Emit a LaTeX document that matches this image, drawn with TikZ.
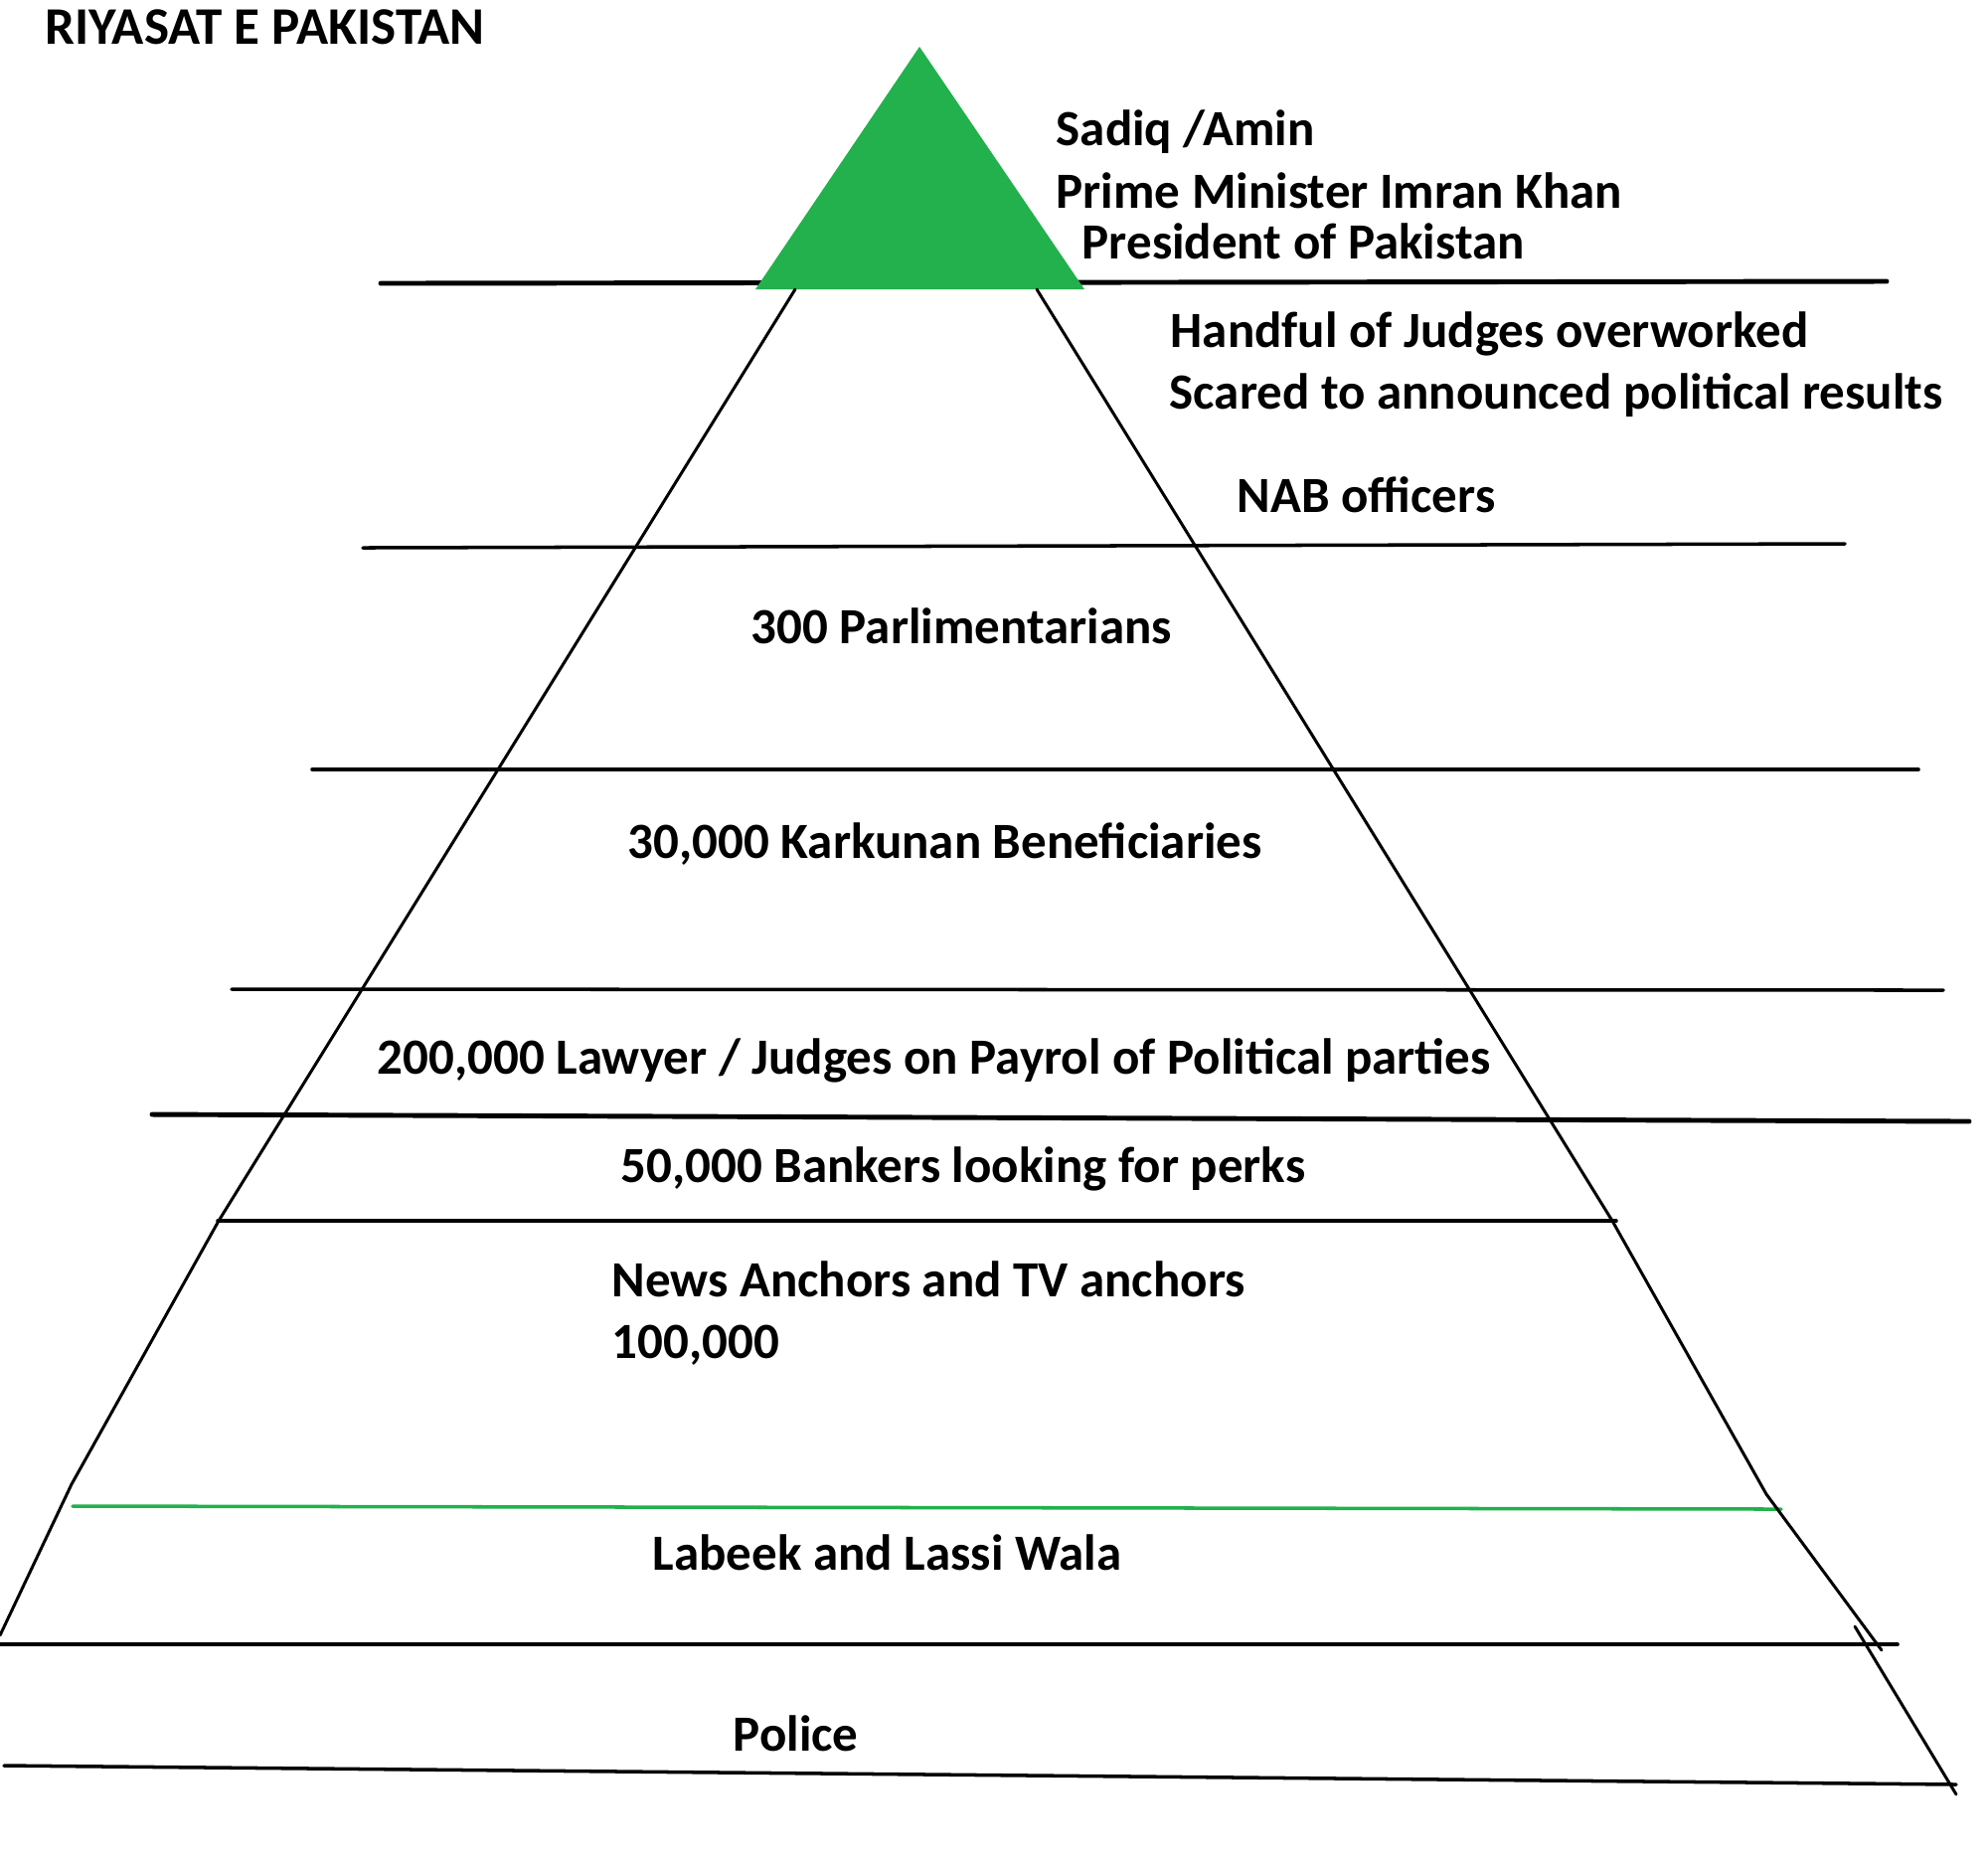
\documentclass[tikz,border=0pt]{standalone}
\usepackage{fontspec}
\setmainfont{Carlito}
\definecolor{pgreen}{HTML}{22B14C}
\begin{document}
\begin{tikzpicture}[x=0.01cm,y=-0.01cm,
  lbl/.style={anchor=base west, inner sep=0pt, font=\fontsize{14.5}{17}\selectfont\bfseries},
  pedge/.style={line width=0.85pt, line join=round, line cap=round},
  tier/.style={line width=1pt, line cap=round},
  thicktier/.style={line width=1.4pt, line cap=round}]
\useasboundingbox[fill=white] (0,0) rectangle (2000,1871);

% tier lines
\draw[thicktier] (383,285) -- (1898,283);
\draw[tier] (365,551) -- (1856,547);
\draw[tier] (314,774) -- (1930,774);
\draw[tier] (233,995) -- (1955,996);
\draw[thicktier] (153,1121) -- (1981,1128);
\draw[tier] (219,1228) -- (1626,1228);
\draw[line width=1pt, pgreen, line cap=round] (73,1515) -- (1792,1518);
\draw[tier] (0,1654) -- (1909,1654);
\draw[tier] (4,1776) -- (1968,1795);

% green apex
\fill[pgreen] (925,47) -- (1091,291) -- (760,291) -- cycle;

% pyramid edges
\draw[pedge] (800,291) -- (220,1228) -- (72,1493) -- (0,1645);
\draw[pedge] (1043,291) -- (1622,1228) -- (1777,1503) -- (1893,1660);
\draw[pedge] (1866,1636) -- (1968,1805);

% texts
\node[lbl, font=\fontsize{15.1}{18}\selectfont\bfseries] (title) at (45,44) {RIYASAT E PAKISTAN};
\node[lbl] (sadiq) at (1062,146) {Sadiq /Amin};
\node[lbl] (pm) at (1062,209) {Prime Minister Imran Khan};
\node[lbl] (pres) at (1088,260) {President of Pakistan};
\node[lbl] (judges) at (1177,349) {Handful of Judges overworked};
\node[lbl] (scared) at (1176,411) {Scared to announced political results};
\node[lbl] (nab) at (1244,515) {NAB officers};
\node[lbl] (parl) at (755,647) {300 Parlimentarians};
\node[lbl] (kark) at (631,863) {30,000 Karkunan Beneficiaries};
\node[lbl] (lawyer) at (379,1080) {200,000 Lawyer / Judges on Payrol of Political parties};
\node[lbl] (bank) at (624,1189) {50,000 Bankers looking for perks};
\node[lbl] (news) at (615,1304) {News Anchors and TV anchors};
\node[lbl] (hk) at (615,1366) {100,000};
\node[lbl] (labeek) at (656,1579) {Labeek and Lassi Wala};
\node[lbl] (police) at (737,1761) {Police};
\end{tikzpicture}
\end{document}
